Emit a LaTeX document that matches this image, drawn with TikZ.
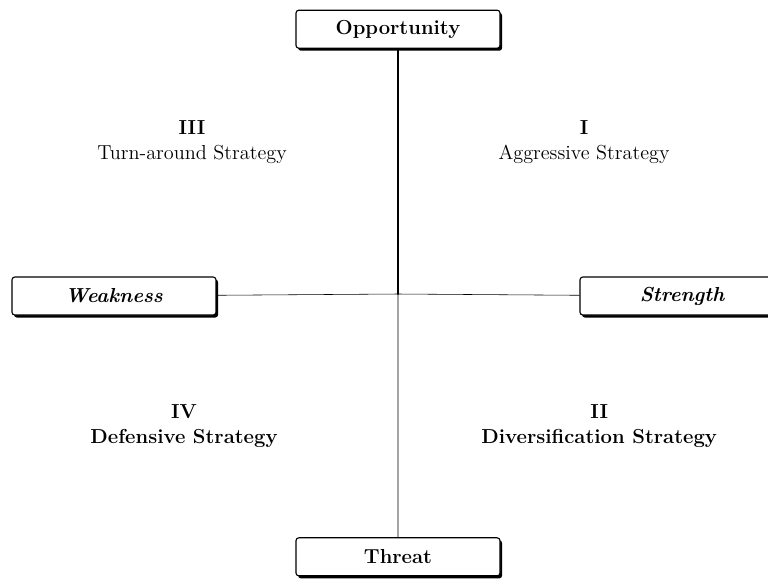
\documentclass[tikz,border=0pt]{standalone}
\usetikzlibrary{shadows}
\begin{document}
\begin{tikzpicture}[font=\Large, line join=round, line cap=round,
		axisbox/.style={draw, thick, fill=white, rounded corners=2pt, minimum width=5.1cm, minimum height=0.95cm,
			font=\Large\bfseries,
			drop shadow={shadow xshift=1.5pt, shadow yshift=-1.8pt, opacity=1, fill=black}},
		quadtext/.style={align=center},
		quadbold/.style={quadtext, font=\Large\bfseries}]
			\useasboundingbox (-9.95,-7.1) rectangle (9.25,7.35);
			\coordinate (O) at (0,0);
			\node[axisbox] (opp) at (0,6.62) {Opportunity};
			\node[axisbox] (weak) at (-7.1,-0.05) {\itshape Weakness};
			\node[axisbox] (str) at (7.1,-0.05) {\itshape Strength};
			\node[axisbox] (thr) at (0,-6.57) {Threat};
			\draw[line width=1.3pt] (opp) -- (O);
			\draw (O) -- (thr) (weak) -- (O) -- (str);
			\node[quadtext] (q3) at (-5.15,3.8) {\textbf{III}\\Turn-around Strategy};
			\node[quadtext] (q1) at (4.65,3.8) {\textbf{I}\\Aggressive Strategy};
			\node[quadbold] (q4) at (-5.35,-3.3) {IV\\Defensive Strategy};
			\node[quadbold] (q2) at (5.03,-3.3) {II\\Diversification Strategy};
		\end{tikzpicture}
\end{document}
